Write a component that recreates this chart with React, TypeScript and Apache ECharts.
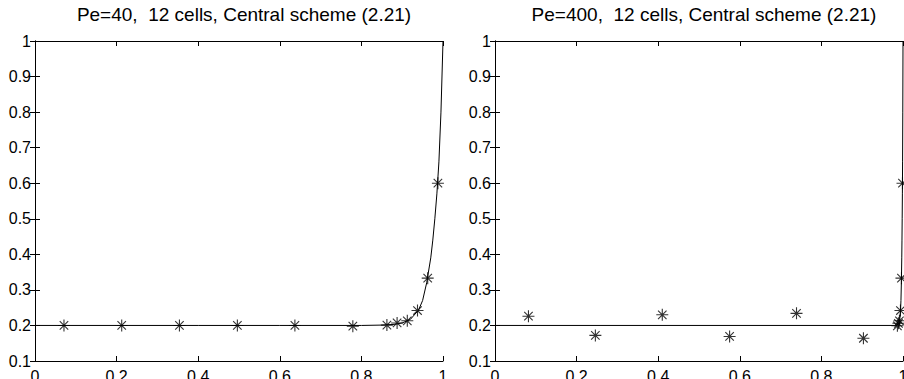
import React, { useEffect, useRef } from "react";
import * as echarts from "echarts";

const titles = [
  "Pe=40,  12 cells, Central scheme (2.21)",
  "Pe=400,  12 cells, Central scheme (2.21)",
];

// Numerical (cell-centre) values, left plot Pe=40
const cellXLeft = [0.071, 0.2125, 0.354, 0.496, 0.637, 0.779, 0.8625, 0.8875, 0.9125, 0.9375, 0.9625, 0.9875];
const cellYLeft = [0.2, 0.2, 0.2, 0.2, 0.2, 0.198, 0.201, 0.207, 0.213, 0.242, 0.333, 0.6];

// Exact curve, left plot
const curveXLeft = [0, 0.2, 0.4, 0.6, 0.8, 0.85, 0.88, 0.9, 0.92, 0.94, 0.95, 0.96, 0.97, 0.975, 0.98, 0.985, 0.99, 0.995, 1];
const curveYLeft = [0.2, 0.2, 0.2, 0.2, 0.2, 0.201, 0.203, 0.207, 0.217, 0.243, 0.27, 0.32, 0.39, 0.44, 0.5, 0.57, 0.66, 0.8, 1];

// Numerical values, right plot Pe=400
const cellXRight = [0.082, 0.246, 0.41, 0.575, 0.739, 0.903, 0.98625, 0.98875, 0.99125, 0.99375, 0.99625, 0.99875];
const cellYRight = [0.226, 0.172, 0.23, 0.169, 0.234, 0.164, 0.199, 0.206, 0.213, 0.242, 0.333, 0.6];

// Exact curve, right plot
const curveXRight = [0, 0.5, 0.98, 0.985, 0.988, 0.99, 0.992, 0.994, 0.995, 0.996, 0.997, 0.9975, 0.998, 0.9985, 0.999, 0.9995, 1];
const curveYRight = [0.2, 0.2, 0.2, 0.201, 0.203, 0.207, 0.217, 0.243, 0.27, 0.32, 0.39, 0.44, 0.5, 0.57, 0.66, 0.8, 1];

const yMin = 0.1;
const yMax = 1;

const zip = (xs: number[], ys: number[]) => xs.map((x, i) => [x, ys[i]]);

const ASTERISK =
  "path://M0,-10L0,10M-10,0L10,0M-7.07,-7.07L7.07,7.07M-7.07,7.07L7.07,-7.07";

export default function App() {
  const ref = useRef<HTMLDivElement>(null);
  useEffect(() => {
    document.body.style.margin = "0";
    const chart = echarts.init(ref.current!, null, { renderer: "svg" });
    const font = "'Liberation Sans', Arial, sans-serif";
    const grids = [
      { left: 35, top: 41, width: 408, height: 320, containLabel: false, outerBoundsMode: "none" },
      { left: 495, top: 41, width: 408, height: 320, containLabel: false, outerBoundsMode: "none" },
    ];
    const lineStyle = { color: "#000", width: 1 };
    const xAxes: any[] = [];
    const yAxes: any[] = [];
    [0, 1].forEach((g) => {
      ["bottom", "top"].forEach((pos) => {
        xAxes.push({
          type: "value",
          gridIndex: g,
          position: pos,
          min: 0,
          max: 1,
          interval: 0.2,
          axisLine: { show: true, lineStyle },
          axisTick: { show: true, inside: true, length: 5, lineStyle },
          axisLabel: {
            show: pos === "bottom",
            color: "#000",
            fontFamily: font,
            fontSize: 16,
            margin: 7,
            formatter: (v: number) => String(+v.toFixed(1)),
          },
          splitLine: { show: false },
        });
      });
      ["left", "right"].forEach((pos) => {
        yAxes.push({
          type: "value",
          gridIndex: g,
          position: pos,
          min: yMin,
          max: yMax,
          interval: 0.1,
          axisLine: { show: true, lineStyle },
          axisTick: { show: true, inside: true, length: 5, lineStyle },
          axisLabel: {
            show: pos === "left",
            color: "#000",
            fontFamily: font,
            fontSize: 16,
            margin: 4,
            formatter: (v: number) => String(+v.toFixed(1)),
          },
          splitLine: { show: false },
        });
      });
    });
    const curveSeries = (g: number, data: number[][]) => ({
      type: "line",
      xAxisIndex: g * 2,
      yAxisIndex: g * 2,
      data,
      showSymbol: false,
      symbol: "none",
      lineStyle: { color: "#000", width: 1 },
      clip: true,
      z: 2,
    });
    const markSeries = (g: number, data: number[][]) => ({
      type: "scatter",
      xAxisIndex: g * 2,
      yAxisIndex: g * 2,
      data,
      symbol: ASTERISK,
      symbolSize: 12,
      itemStyle: { color: "none", borderColor: "#000", borderWidth: 1.1 },
      clip: false,
      z: 3,
    });
    chart.setOption({
      animation: false,
      backgroundColor: "#fff",
      title: titles.map((t, i) => ({
        text: t,
        left: grids[i].left + grids[i].width / 2,
        textAlign: "center",
        top: 0,
        textStyle: { fontFamily: font, fontSize: 19, fontWeight: "normal", color: "#000" },
      })),
      grid: grids,
      xAxis: xAxes,
      yAxis: yAxes,
      series: [
        curveSeries(0, zip(curveXLeft, curveYLeft)),
        markSeries(0, zip(cellXLeft, cellYLeft)),
        curveSeries(1, zip(curveXRight, curveYRight)),
        markSeries(1, zip(cellXRight, cellYRight)),
      ],
    });
    return () => chart.dispose();
  }, []);
  return <div ref={ref} style={{ width: 904, height: 379 }} />;
}
